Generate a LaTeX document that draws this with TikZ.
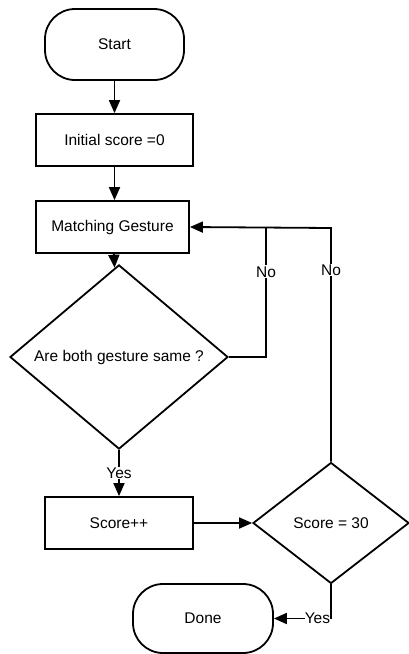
\documentclass[tikz,border=0pt]{standalone}
\usepackage{fontspec}
\setmainfont{Liberation Sans}
\usepackage{tikz}
\usetikzlibrary{arrows.meta, shapes.geometric}

\begin{document}
\begin{tikzpicture}[
  x=1pt, y=-1pt,
  font=\fontsize{15.5}{18}\selectfont,
  box/.style     = {draw, line width=1.8pt, rectangle, inner sep=0pt, align=center},
  terminal/.style= {box, rounded corners=30pt},
  decision/.style= {draw, line width=1.8pt, diamond, inner sep=0pt, align=center},
  flow/.style    = {-{Triangle[length=13pt, width=11pt]}, line width=1.8pt},
  link/.style    = {line width=1.8pt},
  lbl/.style     = {fill=white, inner sep=1pt},
]
\useasboundingbox (0,0) rectangle (409,654);

% ---- the main column
\node[terminal, minimum width=139pt, minimum height=71pt] (start) at (114.5,44.5) {Start};
\node[box, minimum width=157pt, minimum height=52pt] (init)  at (114.5,140) {Initial score =0};
\node[box, minimum width=153pt, minimum height=52pt] (match) at (112.5,227) {Matching Gesture};
\node[decision, minimum width=218pt, minimum height=139pt] (same) at (119,357) {Are both gesture same ?};
\node[box, minimum width=148pt, minimum height=52pt] (incr)  at (119,523) {Score++};

% ---- the score check
\node[decision, minimum width=156pt, minimum height=121pt] (check) at (331,523) {Score = 30};
\node[terminal, minimum width=140pt, minimum height=69pt] (done) at (203,618.5) {Done};

\coordinate (backsame)  at (266,228);
\coordinate (backcheck) at (331,228);

\draw[flow] (start) -- (init);
\draw[flow] (init.south) -- (init.south |- match.north);
\draw[flow] (match) -- (same);
\draw[flow] (same) -- (incr) node[lbl, midway] {Yes};
\draw[flow] (incr) -- (check);
\draw[flow] (check.south) |- (done.east) node[lbl, pos=0.5, anchor=east, inner sep=0pt] {Yes};

% ---- the two way back
\draw[link] (same.east) -| (backsame) node[lbl, pos=0.83] {No};
\draw[flow] (check.north) -- (backcheck) node[lbl, pos=0.82] {No} -- (match.east);

\end{tikzpicture}
\end{document}
